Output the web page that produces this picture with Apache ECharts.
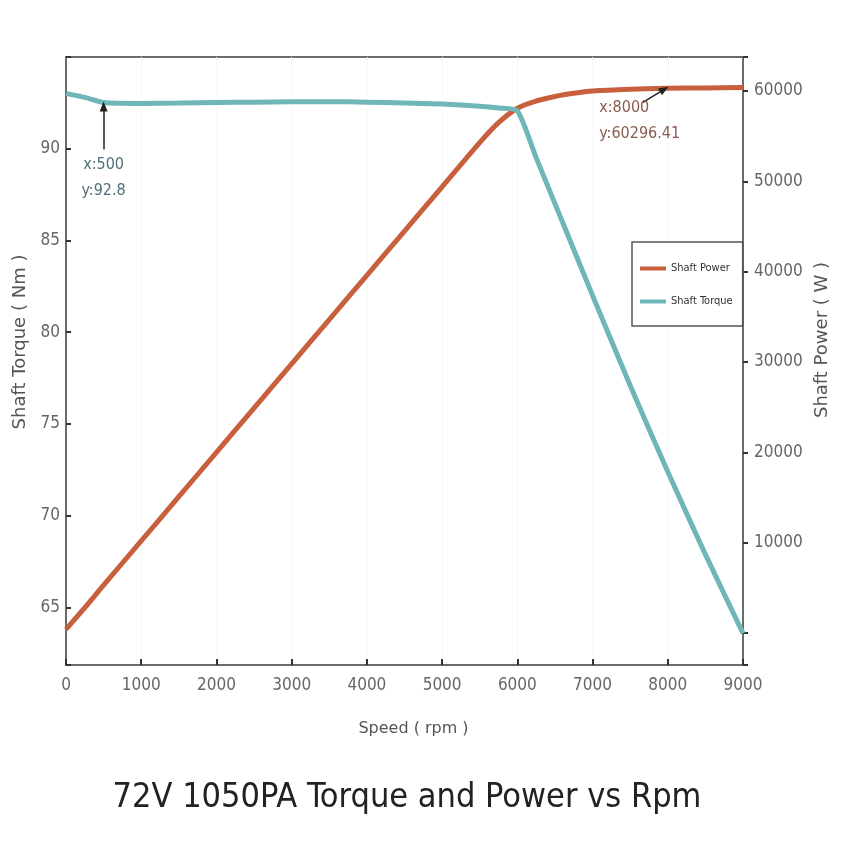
<!DOCTYPE html>
<html>
<head>
<meta charset="utf-8">
<script src="https://cdn.jsdelivr.net/npm/echarts@6/dist/echarts.min.js"></script>
<style>
  html, body { margin: 0; padding: 0; background: #fff; }
  #chart { width: 850px; height: 850px; }
</style>
</head>
<body>
<div id="chart"></div>
<script>
// data
var rpm    = [0, 250, 500, 1000, 1500, 2000, 2500, 3000, 3500, 4000, 4500, 5000, 5500, 5750, 6000, 6250, 6500, 6750, 7000, 7500, 8000, 8500, 9000];
var torque = [93.0, 92.78, 92.5, 92.45, 92.47, 92.5, 92.52, 92.55, 92.55, 92.52, 92.48, 92.42, 92.3, 92.2, 92.05, 89.5, 87.0, 84.5, 82.0, 77.1, 72.4, 67.9, 63.6];
var power  = [400, 2800, 5300, 10200, 15100, 20000, 24900, 29800, 34700, 39600, 44500, 49400, 54300, 56500, 58100, 58900, 59400, 59750, 60000, 60200, 60300, 60350, 60400];

// annotations
var torqueNote = { x: 500, y: 92.8 };
var powerNote = { x: 8000, y: 60296.41 };

var powerColor = '#c8603e';
var torqueColor = '#6fb6b8';
var narrow = '"DejaVu Sans Condensed", "Liberation Sans Narrow", sans-serif';

var myChart = echarts.init(document.getElementById('chart'));

var option = {
  backgroundColor: '#fff',
  animation: false,
  title: {
    text: '72V 1050PA Torque and Power vs Rpm',
    left: 402,
    textAlign: 'center',
    top: 776,
    textStyle: { fontFamily: narrow, fontSize: 34, fontWeight: 'normal', color: '#222' }
  },
  legend: {
    orient: 'vertical',
    left: 632,
    top: 242,
    padding: [21, 10, 19, 8],
    itemGap: 22,
    itemWidth: 26,
    itemHeight: 14,
    backgroundColor: '#fff',
    borderColor: '#555',
    borderWidth: 1.5,
    borderRadius: 0,
    textStyle: { fontFamily: narrow, fontSize: 11, color: '#333' },
    data: [
      { name: 'Shaft Power', icon: 'path://M0,0H26V4H0Z' },
      { name: 'Shaft Torque', icon: 'path://M0,0H26V4H0Z' }
    ]
  },
  grid: {
    left: 66, right: 107, top: 57, bottom: 185,
    show: true, borderColor: '#6b6b6b', borderWidth: 2
  },
  xAxis: {
    type: 'value',
    min: 0, max: 9000, interval: 1000,
    name: 'Speed ( rpm )',
    nameLocation: 'middle',
    nameGap: 56,
    nameTextStyle: { fontFamily: 'DejaVu Sans', fontSize: 16, color: '#555', padding: [0, 0, 0, 18] },
    axisLine: { onZero: false, lineStyle: { color: '#6b6b6b', width: 2 } },
    axisTick: { inside: true, length: 6, lineStyle: { color: '#333', width: 2 } },
    axisLabel: {
      fontFamily: narrow, fontSize: 17, color: '#666', margin: 12,
      formatter: function (v) { return String(v); }
    },
    splitLine: { show: true, lineStyle: { color: '#f1f3f3', width: 1, type: 'dotted' } }
  },
  yAxis: [{
    type: 'value',
    min: 61.88, max: 94.98,
    name: 'Shaft Torque ( Nm )',
    nameLocation: 'middle',
    nameRotate: 90,
    nameGap: 36,
    nameTextStyle: { fontFamily: 'DejaVu Sans', fontSize: 18, color: '#555', padding: [0, 0, 0, 38] },
    axisLine: { show: true, onZero: false, lineStyle: { color: '#6b6b6b', width: 2 } },
    axisTick: { show: true, inside: true, length: 5, lineStyle: { color: '#333', width: 2 } },
    axisLabel: {
      fontFamily: narrow, fontSize: 17, color: '#666', margin: 6,
      formatter: function (v) { return (v % 5 === 0 && v >= 65 && v <= 90) ? String(v) : ''; }
    },
    splitLine: { show: false }
  }, {
    type: 'value',
    min: -3540, max: 63770,
    position: 'right',
    name: 'Shaft Power ( W )',
    nameLocation: 'middle',
    nameRotate: 90,
    nameGap: 64,
    nameTextStyle: { fontFamily: 'DejaVu Sans', fontSize: 18, color: '#555', padding: [0, 0, 0, 42] },
    axisLine: { show: true, onZero: false, lineStyle: { color: '#6b6b6b', width: 2 } },
    axisTick: { show: true, inside: false, length: 5, lineStyle: { color: '#333', width: 2 } },
    axisLabel: {
      fontFamily: narrow, fontSize: 17, color: '#666', margin: 11,
      formatter: function (v) { return (v % 10000 === 0 && v > 0) ? String(v) : ''; }
    },
    splitLine: { show: false }
  }],
  series: [{
    name: 'Shaft Power',
    type: 'line',
    yAxisIndex: 1,
    showSymbol: false,
    symbol: 'none',
    smooth: 0.3,
    lineStyle: { color: powerColor, width: 5 },
    itemStyle: { color: powerColor },
    data: rpm.map(function (r, i) { return [r, power[i]]; }),
    markLine: {
      silent: true,
      symbol: ['none', 'triangle'],
      symbolSize: [8, 10],
      lineStyle: { color: '#222', width: 1.5, type: 'solid' },
      label: { show: false },
      data: [[{ coord: [7664, 58710] }, { coord: [7952, 60194] }]]
    },
    markPoint: {
      silent: true,
      symbol: 'circle',
      symbolSize: 0,
      label: {
        show: true, position: 'right', distance: 0,
        fontFamily: narrow, fontSize: 16, color: '#8a5c4e', lineHeight: 26, align: 'left',
        formatter: 'x:' + powerNote.x + '\ny:' + powerNote.y
      },
      data: [{ coord: [7089, 56684] }]
    }
  }, {
    name: 'Shaft Torque',
    type: 'line',
    showSymbol: false,
    symbol: 'none',
    smooth: 0.2,
    lineStyle: { color: torqueColor, width: 5 },
    itemStyle: { color: torqueColor },
    data: rpm.map(function (r, i) { return [r, torque[i]]; }),
    markLine: {
      silent: true,
      symbol: ['none', 'triangle'],
      symbolSize: [8, 10],
      lineStyle: { color: '#222', width: 1.5, type: 'solid' },
      label: { show: false },
      data: [[{ coord: [torqueNote.x, 89.95] }, { coord: [torqueNote.x, 92.29] }]]
    },
    markPoint: {
      silent: true,
      symbol: 'circle',
      symbolSize: 0,
      label: {
        show: true, position: 'inside',
        fontFamily: narrow, fontSize: 16, color: '#4e7077', lineHeight: 26, align: 'center',
        formatter: 'x:' + torqueNote.x + '\ny:' + torqueNote.y
      },
      data: [{ coord: [torqueNote.x, 88.42] }]
    }
  }]
};

myChart.setOption(option);
</script>
</body>
</html>
